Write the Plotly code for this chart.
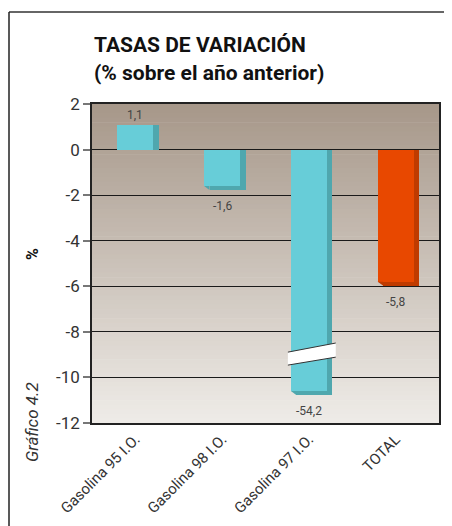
import plotly.graph_objects as go

# ---- data ----
categories = ["Gasolina 95 I.O.", "Gasolina 98 I.O.", "Gasolina 97 I.O.", "TOTAL"]
values = [1.1, -1.6, -54.2, -5.8]
value_labels = ["1,1", "-1,6", "-54,2", "-5,8"]
axis_cut = -10.6          # broken-bar display limit
y_ticks = [2, 0, -2, -4, -6, -8, -10, -12]

front_colors = ["#67CDD8", "#67CDD8", "#67CDD8", "#E84800"]
side_colors = ["#4FA7AE", "#4FA7AE", "#4FA7AE", "#BF3B00"]

display = [max(v, axis_cut) for v in values]
DY = 0.17
DX = 0.062
shadow_vals = [d if d > 0 else d - DY for d in display]

# page has an 8px body margin; figure placed at (8, 8)
OFF = 8
W, H = 452 - OFF, 526 - OFF
PL, PT, PR, PB = 92, 104, 439, 423   # plot area in page pixels
FONT = "Roboto, Arial, sans-serif"

fig = go.Figure()
bw = 0.415
fig.add_bar(x=categories, y=shadow_vals, marker=dict(color=side_colors, line_width=0),
            width=bw, offset=-bw / 2 + DX, hoverinfo="skip", showlegend=False)
fig.add_bar(x=categories, y=display, marker=dict(color=front_colors, line_width=0),
            width=bw, offset=-bw / 2, showlegend=False)

def px_x(px):
    return (px - PL) / (PR - PL)

def px_y(py):
    return (PB - py) / (PB - PT)

shapes = []
# gradient background of plot area
N = 70
top = (166, 151, 137)
bot = (239, 236, 232)
for i in range(N):
    t = (i + 0.5) / N
    c = tuple(round(top[k] + (bot[k] - top[k]) * t) for k in range(3))
    shapes.append(dict(type="rect", xref="x domain", yref="y domain",
                       x0=0, x1=1, y0=1 - i / N, y1=1 - (i + 1) / N - 0.002,
                       fillcolor="rgb(%d,%d,%d)" % c, line_width=0, layer="below"))

# chamfer corner of the 3D shadow on negative bars
for i, (d, col) in enumerate(zip(display, side_colors)):
    if d < 0:
        xl = i - bw / 2
        shapes.append(dict(type="path", xref="x", yref="y",
                           path=f"M {xl},{d} L {xl + DX},{d} L {xl + DX},{d - DY} Z",
                           fillcolor=col, line_width=0, layer="above"))

# axis break marker on the long bar
bi = 2
bx0, bx1 = bi - 0.242, bi + 0.31
shapes.append(dict(type="path", xref="x", yref="y",
                   path=f"M {bx0},-8.89 L {bx1},-8.49 L {bx1},-9.11 L {bx0},-9.46 Z",
                   fillcolor="white", line_width=0, layer="above"))
shapes.append(dict(type="line", xref="x", yref="y", x0=bx0, y0=-8.89, x1=bx1, y1=-8.49,
                   line=dict(color="#333", width=1), layer="above"))
shapes.append(dict(type="line", xref="x", yref="y", x0=bx0, y0=-9.46, x1=bx1, y1=-9.11,
                   line=dict(color="#333", width=1), layer="above"))

# outer frame (top and left lines)
shapes.append(dict(type="line", xref="paper", yref="paper",
                   x0=px_x(9), x1=px_x(470), y0=px_y(12), y1=px_y(12),
                   line=dict(color="#333", width=1.5)))
shapes.append(dict(type="line", xref="paper", yref="paper",
                   x0=px_x(9), x1=px_x(9), y0=px_y(12), y1=px_y(560),
                   line=dict(color="#222", width=1.5)))

annotations = []
for c, d, lab in zip(categories, display, value_labels):
    annotations.append(dict(x=c, y=d, xref="x", yref="y", text=lab, showarrow=False,
                            yshift=10 if d > 0 else -20,
                            font=dict(family=FONT, size=12, color="#444")))

annotations.append(dict(x=px_x(92), y=px_y(45), xref="paper", yref="paper", xanchor="left",
                        yanchor="middle", showarrow=False,
                        text="<b>TASAS DE VARIACIÓN</b>",
                        font=dict(family=FONT, size=21, color="#111")))
annotations.append(dict(x=px_x(92), y=px_y(73), xref="paper", yref="paper", xanchor="left",
                        yanchor="middle", showarrow=False,
                        text="<b>(% sobre el año anterior)</b>",
                        font=dict(family=FONT, size=21, color="#111")))
annotations.append(dict(x=px_x(32), y=px_y(254), xref="paper", yref="paper",
                        xanchor="center", yanchor="middle", showarrow=False, textangle=-90,
                        text="<b>%</b>", font=dict(family=FONT, size=16, color="#111")))
annotations.append(dict(x=px_x(32), y=px_y(422), xref="paper", yref="paper",
                        xanchor="center", yanchor="middle", showarrow=False, textangle=-90,
                        text="<i>Gráfico 4.2</i>", font=dict(family=FONT, size=17, color="#333")))

fig.update_layout(
    width=W, height=H,
    margin=dict(l=PL - OFF, r=452 - PR, t=PT - OFF, b=526 - PB, autoexpand=False),
    paper_bgcolor="white", plot_bgcolor="rgba(0,0,0,0)",
    barmode="overlay", bargap=0,
    shapes=shapes, annotations=annotations,
    font=dict(family=FONT, color="#333"),
)
fig.update_xaxes(type="category", range=[-0.5, 3.5], tickangle=-45, showgrid=False,
                 ticks="", tickfont=dict(family=FONT, size=15, color="#333"),
                 showline=True, linecolor="#222", linewidth=1.5, mirror=True)
fig.update_yaxes(range=[-12, 2], tickvals=y_ticks, ticktext=[str(t) for t in y_ticks],
                 ticks="outside", ticklen=7, tickcolor="#777", tickwidth=1.5,
                 tickfont=dict(family=FONT, size=17, color="#333"),
                 showgrid=True, gridcolor="#1a1a1a", gridwidth=1.3,
                 zeroline=True, zerolinecolor="#1a1a1a", zerolinewidth=1.3,
                 showline=True, linecolor="#222", linewidth=1.5, mirror=True)

fig.write_html("out.html")
